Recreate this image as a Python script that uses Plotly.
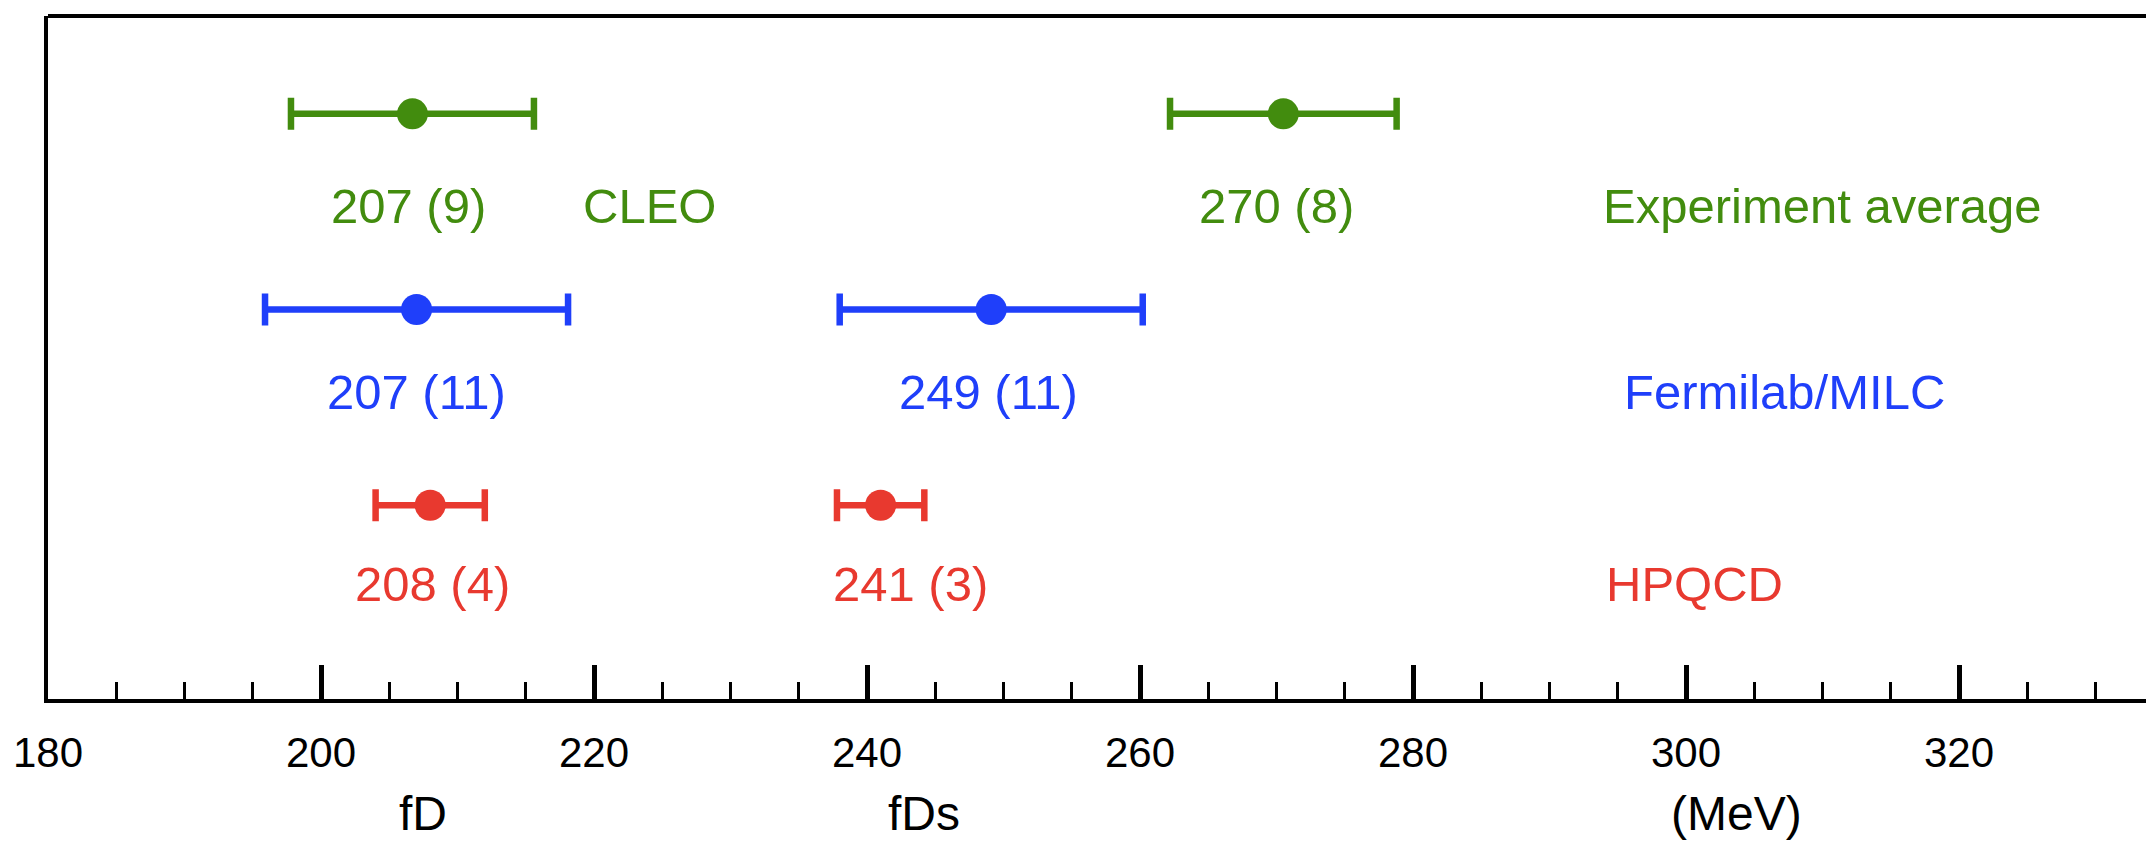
import plotly.graph_objects as go

# ---- data ----
groups = ["Experiment average", "Fermilab/MILC", "HPQCD"]
fD_values = [206.7, 207.0, 208.0]
fD_errors = [8.9, 11.1, 4.0]
fD_labels = ["207 (9)", "207 (11)", "208 (4)"]
fDs_values = [270.5, 249.1, 241.0]
fDs_errors = [8.3, 11.1, 3.2]
fDs_labels = ["270 (8)", "249 (11)", "241 (3)"]
fD_extra_label = "CLEO"
axis_titles = ["fD", "fDs", "(MeV)"]
x_ticks = [180, 200, 220, 240, 260, 280, 300, 320]

# ---- styling / layout constants ----
colors = ["#428c0e", "#1f3ffa", "#e8392f"]
row_y = [3, 2, 1]
label_y = [2.53, 1.58, 0.60]
fD_label_x = [206.4, 207.0, 208.2]
fDs_label_x = [270.0, 248.9, 243.2]
group_label_x = [310.0, 307.2, 300.6]
cleo_label_x = 224.1
axis_title_x = [207.5, 244.2, 303.7]
FONT = "Liberation Sans, Arial, Helvetica, sans-serif"

fig = go.Figure()

for i in range(len(groups)):
    fig.add_trace(go.Scatter(
        x=[fD_values[i], fDs_values[i]],
        y=[row_y[i], row_y[i]],
        mode="markers",
        marker=dict(size=31, color=colors[i]),
        error_x=dict(type="data", array=[fD_errors[i], fDs_errors[i]],
                     color=colors[i], thickness=6.5, width=16),
        showlegend=False, hoverinfo="skip",
    ))

ann_list = []
for i in range(len(groups)):
    for xx, t in ((fD_label_x[i], fD_labels[i]), (fDs_label_x[i], fDs_labels[i]),
                  (group_label_x[i], groups[i])):
        ann_list.append(dict(x=xx, y=label_y[i], xref="x", yref="y", text=t,
                             showarrow=False, xanchor="center", yanchor="middle",
                             font=dict(family=FONT, size=49, color=colors[i])))
ann_list.append(dict(x=cleo_label_x, y=label_y[0], xref="x", yref="y", text=fD_extra_label,
                     showarrow=False, xanchor="center", yanchor="middle",
                     font=dict(family=FONT, size=49, color=colors[0])))
for t, xx in zip(axis_titles, axis_title_x):
    ann_list.append(dict(x=xx, y=-0.167, xref="x", yref="paper", text=t,
                         showarrow=False, xanchor="center", yanchor="middle",
                         font=dict(family=FONT, size=48, color="black")))

fig.update_layout(
    width=2146, height=843,
    margin=dict(l=48, r=0, t=16, b=144),
    paper_bgcolor="white", plot_bgcolor="white",
    annotations=ann_list,
    shapes=[dict(type="line", xref="paper", yref="paper", x0=0, x1=1, y0=1, y1=1,
                 line=dict(color="black", width=4))],
    xaxis=dict(range=[180, 333.7], tickvals=x_ticks, ticktext=[str(v) for v in x_ticks],
               ticks="inside", ticklen=34, tickwidth=5, tickcolor="black",
               minor=dict(ticks="inside", ticklen=17, tickwidth=3, dtick=5, tick0=180,
                          tickcolor="black"),
               showline=True, linecolor="black", linewidth=4,
               showgrid=False, zeroline=False,
               tickfont=dict(family=FONT, size=42, color="black"),
               ticklabelstandoff=14),
    yaxis=dict(range=[0.01, 3.5], showline=True, linecolor="black", linewidth=4,
               showticklabels=False, ticks="", showgrid=False, zeroline=False),
)

fig.write_html("out.html")
